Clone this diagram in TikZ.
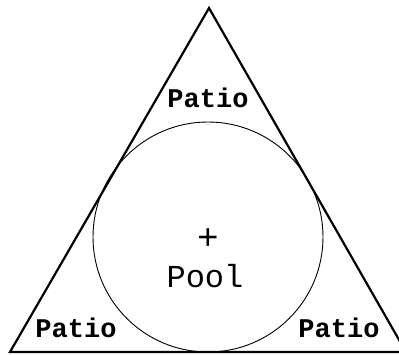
\documentclass[tikz,border=0pt]{standalone}
\usepackage{fontspec}
\setmonofont{Liberation Mono}
\usetikzlibrary{positioning}
\tikzset{
  patio/.style={anchor=base, inner sep=0pt, font=\ttfamily\bfseries\fontsize{27}{27}\selectfont},
  pool/.style={anchor=base, inner sep=0pt, font=\ttfamily\fontsize{32}{32}\selectfont}
}

\begin{document}
\begin{tikzpicture}[x=1pt, y=-1pt]
% Frame
\useasboundingbox (0,0) rectangle (399,354);
\clip (0,0) rectangle (399,354);
% Triangle (patio outline)
\draw[line width=2.2pt, line join=miter] (209,8) -- (406,352) -- (10,352) -- cycle;
% Pool
\draw[line width=0.9pt] (208,237) circle (115);
\node[font=\ttfamily\fontsize{36}{36}\selectfont, inner sep=0pt] (centre) at (208,239) {+};
\node[pool] (pool) at (205,287) {Pool};
% Labels
\node[patio] (patiotop) at (208,107) {Patio};
\node[patio] (patioleft) at (76,337) {Patio};
\node[patio] (patioright) at (339,337) {Patio};
\end{tikzpicture}
\end{document}
